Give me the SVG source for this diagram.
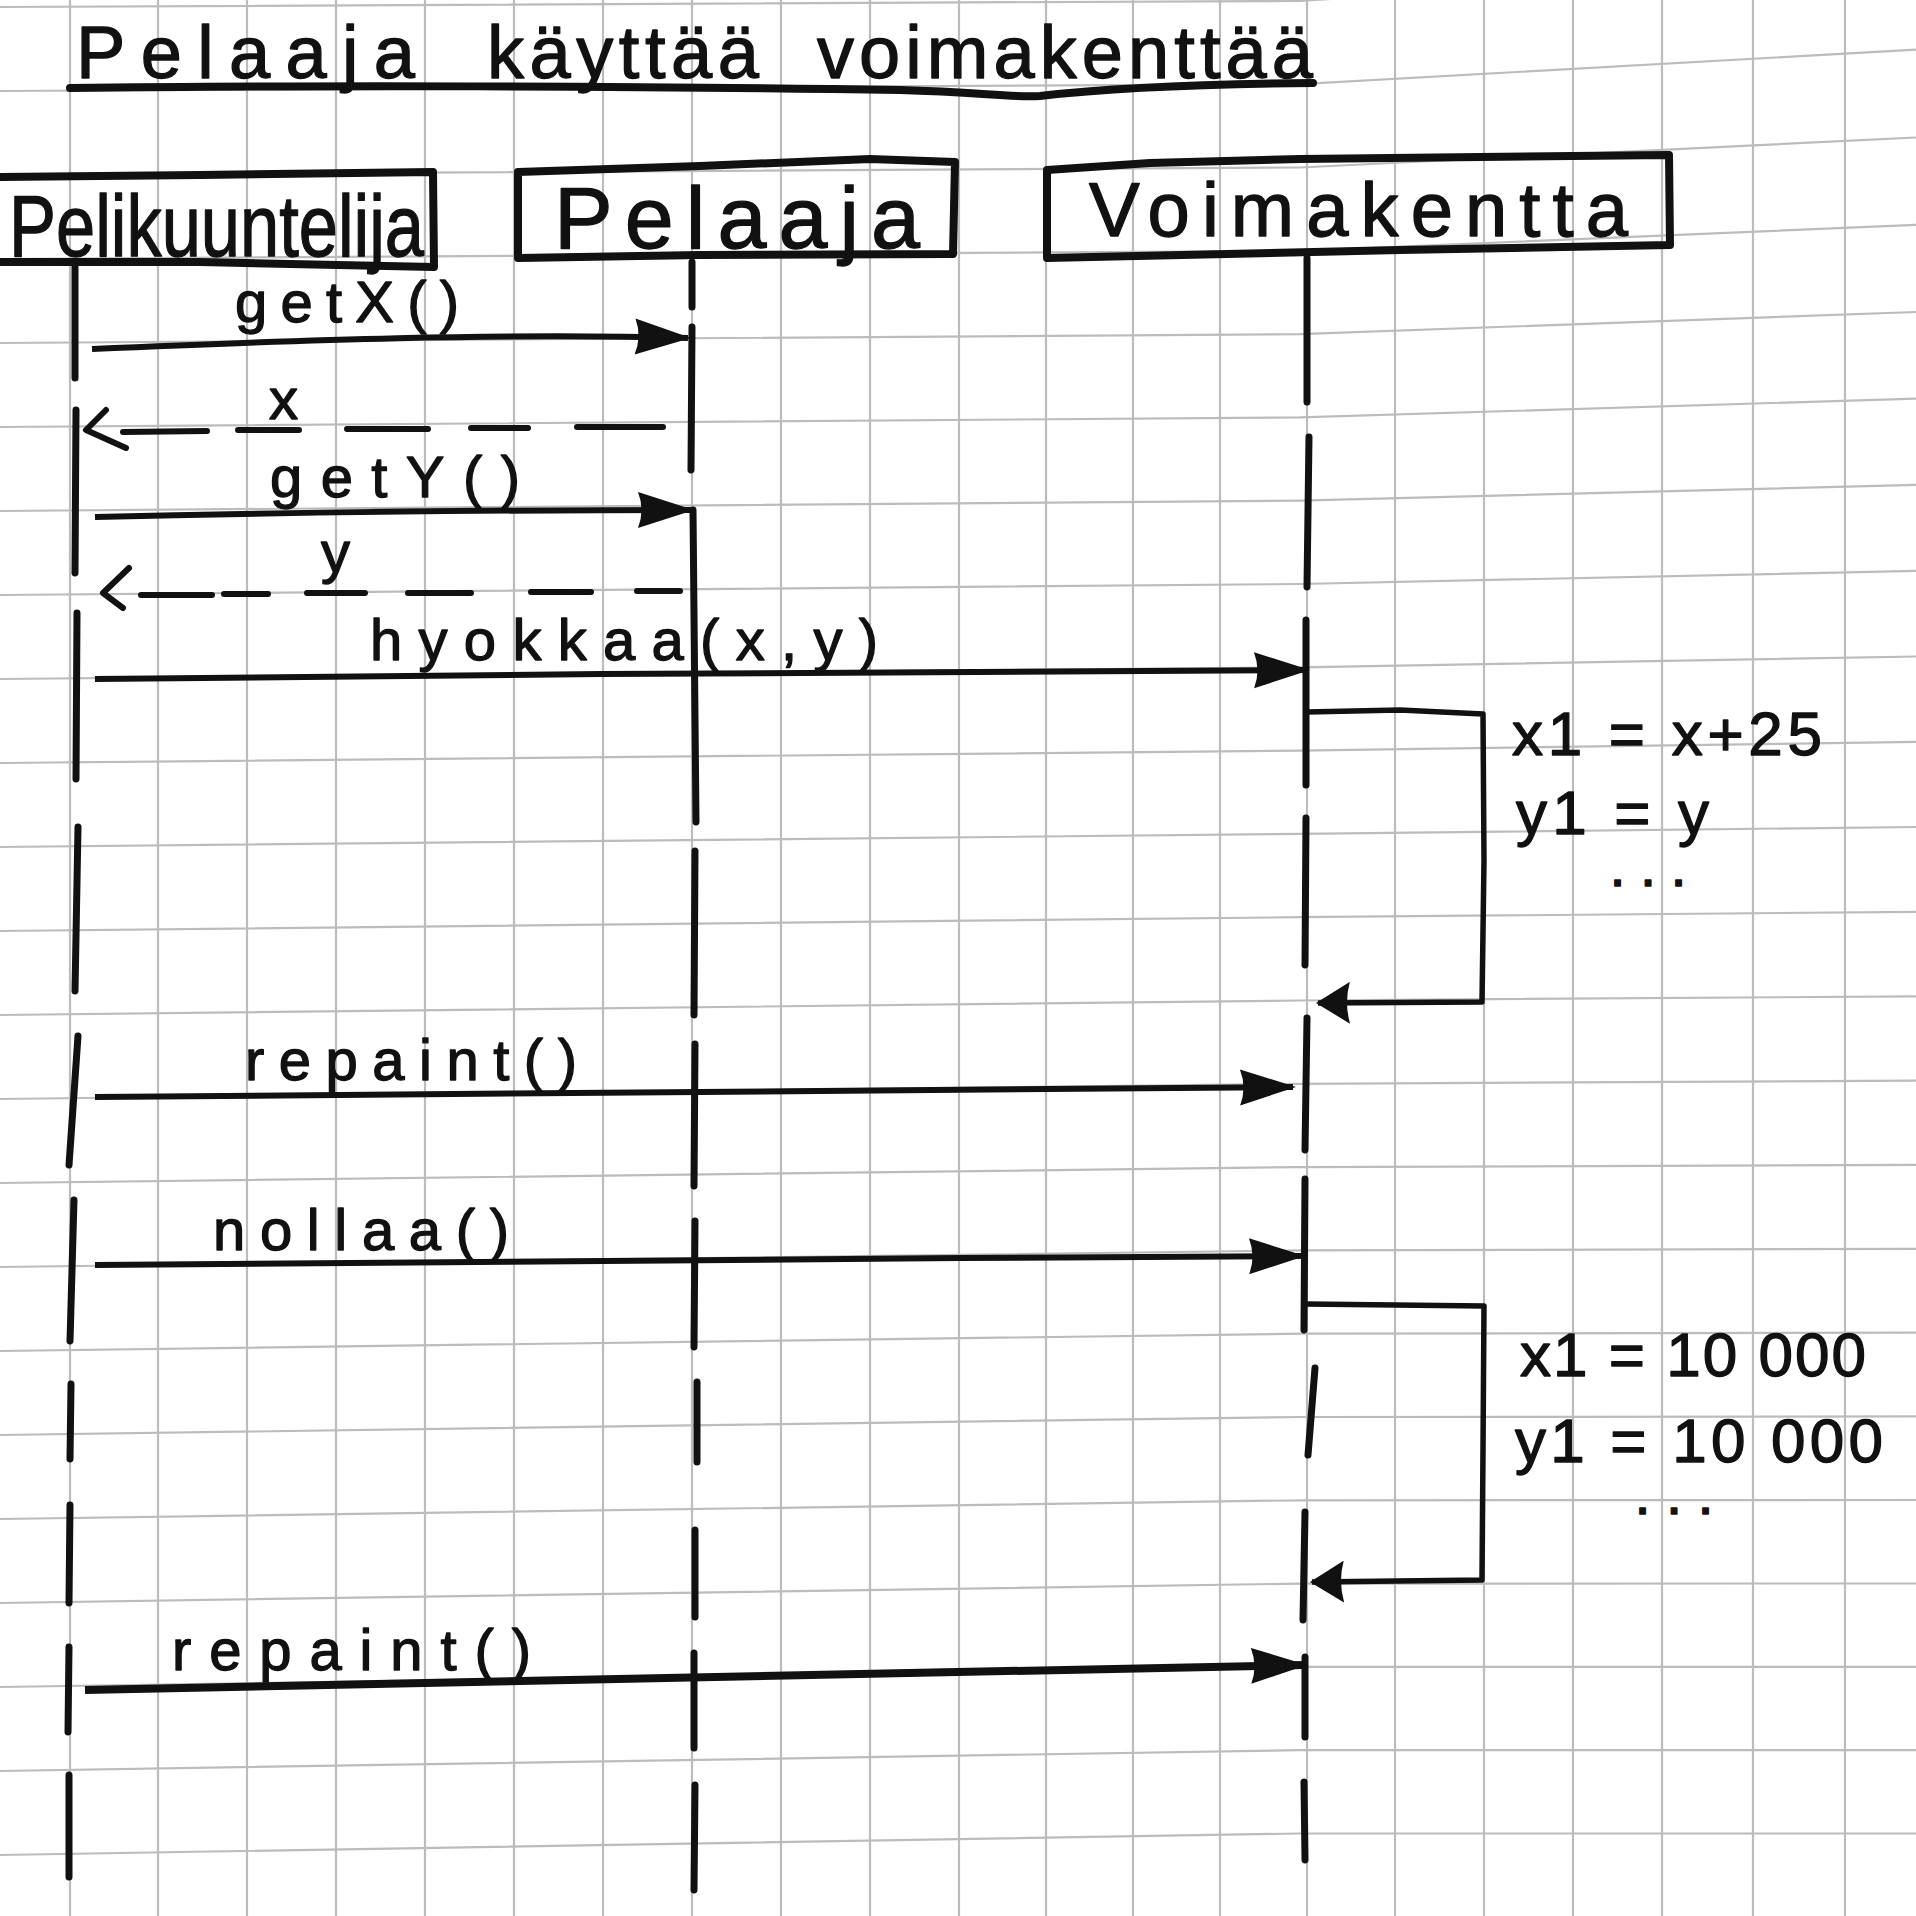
<svg xmlns="http://www.w3.org/2000/svg" width="1916" height="1916" viewBox="0 0 1916 1916">
  <defs>
    <style>
      .grid { fill: none; stroke: #bcbcbc; stroke-width: 2.2; }
      .ink { fill: none; stroke: #111; stroke-linecap: round; stroke-linejoin: round; }
      .box { stroke-width: 8; }
      .life { stroke-width: 7; }
      .msg { stroke-width: 6; stroke-linecap: butt; }
      .ret { stroke-width: 6; }
      .self { stroke-width: 5.5; stroke-linecap: butt; }
      .uline { stroke-width: 8; }
      .hand { font-family: "Liberation Sans", "DejaVu Sans", sans-serif; fill: #111; stroke: #111; stroke-width: 1.3; stroke-linejoin: round; }
      .title { font-size: 74px; }
      .head { font-size: 88px; }
      .lbl { font-size: 58px; }
      .note { font-size: 62px; }
      .dots { font-size: 40px; font-weight: bold; }
    </style>
    <!-- filled message arrowhead -->
    <marker id="arrow" viewBox="0 0 56 38" refX="53" refY="19" markerWidth="56" markerHeight="38" markerUnits="userSpaceOnUse" orient="auto">
      <path d="M0,1 L56,19 L0,37 Q7,19 0,1 Z" fill="#111"/>
    </marker>
    <!-- smaller arrowhead for self calls -->
    <marker id="arrow-s" viewBox="0 0 34 42" refX="32" refY="21" markerWidth="34" markerHeight="42" markerUnits="userSpaceOnUse" orient="auto">
      <path d="M0,0 L34,21 L0,42 Q6,21 0,0 Z" fill="#111"/>
    </marker>
  </defs>

  <rect width="1916" height="1916" fill="#ffffff"/>

  <!-- squared paper -->
  <g id="paper">
    <path class="grid" d="M70,0 V1916 M158,0 V1916 M247,0 V1916 M336,0 V1916 M425,0 V1916 M514,0 V1916 M603,0 V1916 M692,0 V1916 M781,0 V1916 M870,0 V1916 M959,0 V1916 M1046,0 V1916 M1133,0 V1916 M1220,0 V1916 M1307,0 V1916 M1395,0 V1916 M1484,0 V1916 M1573,0 V1916 M1662,0 V1916 M1753,0 V1916 M1845,0 V1916"/>
    <path class="grid" d="M0,7 L1300,0.9 L1916,-38.7
      M0,91 L1300,84.2 L1916,49.6
      M0,175 L1300,167.5 L1916,137.5
      M0,259 L1300,250.8 L1916,224.9
      M0,343 L1300,334.1 L1916,312
      M0,427 L1300,417.4 L1916,398.6
      M0,511 L1300,500.7 L1916,484.9
      M0,595 L1300,584 L1916,570.9
      M0,679 L1300,667.3 L1916,656.5
      M0,763 L1300,750.6 L1916,741.9
      M0,847 L1300,833.9 L1916,827
      M0,931 L1300,917.2 L1916,911.8
      M0,1015 L1300,1000.5 L1916,996.3
      M0,1099 L1300,1083.8 L1916,1080.7
      M0,1183 L1300,1167.1 L1916,1164.9
      M0,1267 L1300,1250.4 L1916,1248.8
      M0,1351 L1300,1333.7 L1916,1332.7
      M0,1435 L1300,1417 L1916,1416.4
      M0,1519 L1300,1500.3 L1916,1500
      M0,1603 L1300,1583.6 L1916,1583.5
      M0,1687 L1300,1666.9 L1916,1666.8
      M0,1771 L1300,1750.2 L1916,1750.2
      M0,1855 L1300,1833.5 L1916,1833.5"/>
  </g>

  <!-- heading -->
  <g id="title">
    <text class="hand title" x="76" y="78" textLength="339" lengthAdjust="spacing">Pelaaja</text>
    <text class="hand title" x="487" y="78" textLength="272" lengthAdjust="spacing">käyttää</text>
    <text class="hand title" x="817" y="78" textLength="496" lengthAdjust="spacing">voimakenttää</text>
    <path class="ink uline" d="M70,88 C300,85 650,86 900,90 C980,92 1010,98 1040,96 C1110,88 1210,84 1313,83"/>
  </g>

  <!-- participant: Pelikuuntelija -->
  <g id="pelikuuntelija">
    <path class="ink box" d="M-6,177 L200,175 L433,172 L434,267 L200,262 L-6,262"/>
    <text class="hand head" x="9" y="256" textLength="415" lengthAdjust="spacingAndGlyphs">Pelikuuntelija</text>
    <path class="ink life" d="M75,267 L75,378 M76,410 L75,573 M77,613 L76,779 M78,827 L75,991 M78,1036 L69,1165 M74,1200 L70,1341 M71,1384 L70,1459 M70,1505 L69,1603 M69,1647 L68,1732 M69,1775 L69,1877"/>
  </g>

  <!-- participant: Pelaaja -->
  <g id="pelaaja">
    <path class="ink box" d="M518,172 L700,166 L870,159 L955,162 L953,254 L700,255 L518,258 Z"/>
    <text class="hand head" x="554" y="248" textLength="366" lengthAdjust="spacing">Pelaaja</text>
    <path class="ink life" d="M692,262 L692,307 M692,327 L691,470 M693,510 L696,822 M695,851 L694,1015 M695,1044 L694,1186 M695,1221 L694,1347 M697,1382 L697,1462 M695,1530 L695,1617 M694,1653 L694,1748 M695,1785 L694,1890"/>
  </g>

  <!-- participant: Voimakenttä -->
  <g id="voimakentta">
    <path class="ink box" d="M1047,258 L1047,170 L1150,163 L1300,159 L1669,155 L1670,245 L1400,250 L1047,258"/>
    <text class="hand head" x="1089" y="236" textLength="539" lengthAdjust="spacing" style="font-size:76px">Voimakentta</text>
    <path class="ink life" d="M1307,258 L1307,402 M1309,437 L1307,587 M1306,620 L1306,785 M1306,818 L1305,965 M1307,1018 L1305,1150 M1305,1179 L1304,1330 M1315,1368 L1308,1455 M1305,1512 L1303,1620 M1305,1657 L1305,1737 M1304,1782 L1305,1860"/>
  </g>

  <!-- messages -->
  <g id="connectors">
    <path class="ink msg" marker-end="url(#arrow)" d="M92,349 C300,340 500,333 688,338"/>
    <text class="hand lbl" x="235" y="322" textLength="224" lengthAdjust="spacing">getX()</text>

    <path class="ink ret" d="M123,432 L207,431 M238,430 L299,430 M347,429 L428,429 M471,428 L528,428 M577,427 L663,427"/>
    <path class="ink ret" d="M106,410 L86,430 L126,448"/>
    <text class="hand lbl" x="269" y="419">x</text>

    <path class="ink msg" marker-end="url(#arrow)" d="M95,517 C300,512 500,510 691,510"/>
    <text class="hand lbl" x="270" y="497" textLength="250" lengthAdjust="spacing">getY()</text>

    <path class="ink ret" d="M141,595 L212,595 M224,594 L268,594 M307,593 L365,593 M408,593 L471,593 M531,592 L591,592 M637,591 L680,591"/>
    <path class="ink ret" d="M129,568 L103,593 L123,608"/>
    <text class="hand lbl" x="321" y="572">y</text>

    <path class="ink msg" marker-end="url(#arrow)" d="M95,679 C500,674 900,672 1307,670"/>
    <text class="hand lbl" x="370" y="660" textLength="508" lengthAdjust="spacing">hyokkaa(x,y)</text>

    <path class="ink self" marker-end="url(#arrow-s)" d="M1307,712 L1400,710 L1483,714 L1484,860 L1482,1002 L1318,1003"/>
    <text class="hand note" x="1512" y="755" textLength="310" lengthAdjust="spacing">x1 = x+25</text>
    <text class="hand note" x="1516" y="834" textLength="193" lengthAdjust="spacing">y1 = y</text>
    <text class="hand dots" x="1612" y="886" textLength="72" lengthAdjust="spacing">...</text>

    <path class="ink msg" marker-end="url(#arrow)" d="M95,1097 C500,1093 900,1090 1293,1087"/>
    <text class="hand lbl" x="245" y="1080" textLength="332" lengthAdjust="spacing">repaint()</text>

    <path class="ink msg" marker-end="url(#arrow)" d="M95,1265 C500,1262 900,1258 1302,1256"/>
    <text class="hand lbl" x="213" y="1250" textLength="296" lengthAdjust="spacing">nollaa()</text>

    <path class="ink self" marker-end="url(#arrow-s)" d="M1305,1304 L1484,1306 L1483,1450 L1482,1580 L1312,1582"/>
    <text class="hand note" x="1520" y="1376" textLength="346" lengthAdjust="spacing">x1 = 10 000</text>
    <text class="hand note" x="1515" y="1462" textLength="368" lengthAdjust="spacing">y1 = 10 000</text>
    <text class="hand dots" x="1637" y="1514" textLength="74" lengthAdjust="spacing">...</text>

    <path class="ink msg" marker-end="url(#arrow)" style="stroke-width:8" d="M85,1690 C400,1684 800,1673 1304,1665"/>
    <text class="hand lbl" x="172" y="1670" textLength="359" lengthAdjust="spacing">repaint()</text>
  </g>
</svg>
